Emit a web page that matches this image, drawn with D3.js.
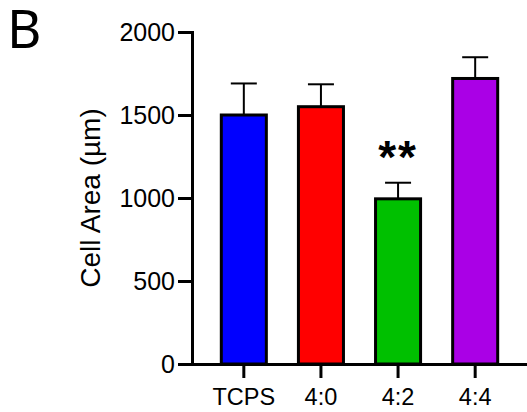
<!DOCTYPE html>
<html>
<head>
<meta charset="utf-8">
<script src="https://cdn.jsdelivr.net/npm/d3@7"></script>
<style>
  body { margin: 0; background: #fff; }
  svg { display: block; }
  .axis text { font-family: "Liberation Sans", Arial, sans-serif; fill: #000; }
</style>
</head>
<body>
<svg id="chart"></svg>
<script>
const width = 527;
const height = 412;

// Data
const groups = ['TCPS', '4:0', '4:2', '4:4'];
const means = [1500, 1550, 995, 1720];
const errors = [190, 135, 97, 128];
const barColors = ['#0000ff', '#ff0000', '#00c000', '#aa00e6'];
const yTicks = [0, 500, 1000, 1500, 2000];
const signif = ['', '', '**', ''];

const svg = d3.select("#chart")
    .attr("width", width)
    .attr("height", height);

const x = d3.scaleBand()
    .domain(groups)
    .range([192, 527])
    .paddingInner(0.416)
    .paddingOuter(0.38);

const y = d3.scaleLinear()
    .domain([0, 2000])
    .range([364, 32]);

// Panel letter
svg.append("text")
    .attr("x", 7)
    .attr("y", 48)
    .style("font-family", "'Noto Sans', 'Open Sans', sans-serif")
    .style("font-size", "53px")
    .text("B");

// Y axis label
svg.append("text")
    .attr("transform", `translate(100,198) rotate(-90)`)
    .attr("text-anchor", "middle")
    .style("font-family", "'Liberation Sans', Arial, sans-serif")
    .style("font-size", "28px")
    .text("Cell Area (µm)");

const data = groups.map((g, i) => ({
    group: g, mean: means[i], err: errors[i], color: barColors[i], sig: signif[i]
}));

// Error bars (upper only)
const eb = svg.append("g");
eb.selectAll(".err-line")
    .data(data)
    .enter()
    .append("line")
    .attr("x1", d => x(d.group) + x.bandwidth() / 2)
    .attr("x2", d => x(d.group) + x.bandwidth() / 2)
    .attr("y1", d => y(d.mean))
    .attr("y2", d => y(d.mean + d.err))
    .attr("stroke", "#000")
    .attr("stroke-width", 2);

eb.selectAll(".err-cap")
    .data(data)
    .enter()
    .append("line")
    .attr("x1", d => x(d.group) + x.bandwidth() / 2 - 13)
    .attr("x2", d => x(d.group) + x.bandwidth() / 2 + 13)
    .attr("y1", d => y(d.mean + d.err))
    .attr("y2", d => y(d.mean + d.err))
    .attr("stroke", "#000")
    .attr("stroke-width", 2);

// Bars
svg.append("g")
    .selectAll("rect")
    .data(data)
    .enter()
    .append("rect")
    .attr("x", d => x(d.group))
    .attr("y", d => y(d.mean))
    .attr("width", x.bandwidth())
    .attr("height", d => y(0) - y(d.mean))
    .attr("fill", d => d.color)
    .attr("stroke", "#000")
    .attr("stroke-width", 3);

// Significance stars
svg.append("g")
    .selectAll("text")
    .data(data.filter(d => d.sig))
    .enter()
    .append("text")
    .attr("x", d => x(d.group) + x.bandwidth() / 2)
    .attr("y", d => y(d.mean + d.err) - 10)
    .attr("text-anchor", "middle")
    .style("font-family", "'Liberation Sans', Arial, sans-serif")
    .style("font-weight", "bold")
    .style("font-size", "46px")
    .style("letter-spacing", "2px")
    .text(d => d.sig);

// Axes
const yAxis = svg.append("g")
    .attr("class", "axis")
    .attr("transform", "translate(192,0)")
    .call(d3.axisLeft(y).tickValues(yTicks).tickFormat(d3.format("d"))
        .tickSize(14).tickPadding(3).tickSizeOuter(0));

const xAxis = svg.append("g")
    .attr("class", "axis")
    .attr("transform", "translate(0,364)")
    .call(d3.axisBottom(x).tickSize(14).tickPadding(10).tickSizeOuter(0));

yAxis.selectAll("text").style("font-size", "25px");
xAxis.selectAll("text").style("font-size", "23.5px");
svg.selectAll(".axis path, .axis line")
    .attr("stroke", "#000")
    .attr("stroke-width", 3);
svg.selectAll(".axis path").attr("stroke-linecap", "square");
</script>
</body>
</html>
